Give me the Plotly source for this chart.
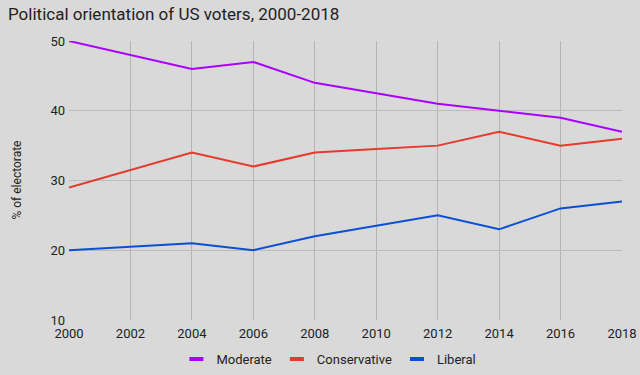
import plotly.graph_objects as go

years = [2000, 2002, 2004, 2006, 2008, 2010, 2012, 2014, 2016, 2018]
moderate = [50, 48, 46, 47, 44, 42.5, 41, 40, 39, 37]
conservative = [29, 31.5, 34, 32, 34, 34.5, 35, 37, 35, 36]
liberal = [20, 20.5, 21, 20, 22, 23.5, 25, 23, 26, 27]
y_ticks = [10, 20, 30, 40, 50]

series = [
    ("Moderate", moderate, "#aa00ff"),
    ("Conservative", conservative, "#e53a2c"),
    ("Liberal", liberal, "#0b4fd6"),
]

fig = go.Figure()
for name, vals, color in series:
    fig.add_trace(go.Scatter(x=years, y=vals, name=name, mode="lines",
                             line=dict(color=color, width=2), showlegend=False))
for name, vals, color in series:
    fig.add_trace(go.Scatter(x=[None], y=[None], name=name, mode="markers",
                             marker=dict(symbol="line-ew", size=10,
                                         line=dict(color=color, width=4)),
                             showlegend=True))

bg = "#d9d9d9"
fig.update_layout(
    width=640, height=375,
    paper_bgcolor=bg, plot_bgcolor=bg,
    font=dict(family="Roboto", color="#222222"),
    title=dict(text="Political orientation of US voters, 2000-2018",
               x=0.0125, xanchor="left", y=0.963, yanchor="middle",
               font=dict(size=17, color="#222222")),
    margin=dict(l=69, r=18, t=41, b=55),
    showlegend=True,
    legend=dict(orientation="h", x=0.47, xanchor="center",
                yref="container", y=16 / 375, yanchor="middle",
                font=dict(size=13, color="#222222"), bgcolor="rgba(0,0,0,0)"),
    xaxis=dict(range=[2000, 2018], tickmode="array", tickvals=years,
               ticktext=[str(y) for y in years], automargin=False,
               showgrid=True, gridcolor="#b3b3b3", gridwidth=1,
               zeroline=False, showline=False, ticks="",
               ticklabelstandoff=4,
               tickfont=dict(size=13, color="#222222")),
    yaxis=dict(range=[10, 50], tickmode="array", tickvals=y_ticks,
               automargin=False,
               showgrid=True, gridcolor="#bcbcbc", gridwidth=1,
               zeroline=False, showline=False, ticks="",
               ticklabelstandoff=3,
               tickfont=dict(size=13, color="#222222")),
    annotations=[dict(text="% of electorate", textangle=-90,
                      xref="paper", yref="paper", x=(16 - 69) / 553, y=0.5,
                      xanchor="center", yanchor="middle", showarrow=False,
                      font=dict(size=12, color="#222222"))],
)

fig.write_html("out.html", config={"displayModeBar": False},
               post_script="document.body.style.margin='0px';document.body.style.overflow='hidden';")
